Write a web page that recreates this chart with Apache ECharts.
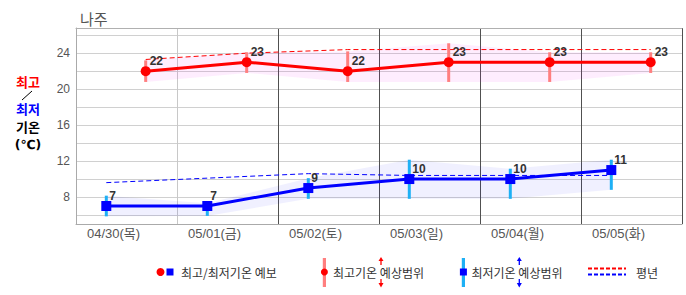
<!DOCTYPE html>
<html><head><meta charset="utf-8">
<script src="https://cdn.jsdelivr.net/npm/echarts@6/dist/echarts.min.js"></script>
<style>html,body{margin:0;padding:0;background:#fff}#c{width:686px;height:295px}</style>
</head><body><div id="c"></div>
<script>
const stationName = '나주';
const dayLabels = ['04/30(목)','05/01(금)','05/02(토)','05/03(일)','05/04(월)','05/05(화)'];
const maxTemp = [22, 23, 22, 23, 23, 23];
const maxRangeHigh = [23.2, 24.1, 24.2, 25.1, 24.1, 24.1];
const maxRangeLow = [20.8, 21.8, 20.8, 20.8, 20.8, 21.8];
const maxNormal = [23.3, 24.0, 24.4, 24.4, 24.4, 24.4];
const minTemp = [7, 7, 9, 10, 10, 11];
const minRangeHigh = [8.15, 7.3, 10.1, 12.15, 11.15, 12.15];
const minRangeLow = [5.85, 5.9, 7.8, 7.8, 7.8, 8.8];
const minNormal = [9.6, 10.1, 10.6, 10.4, 10.4, 10.4];
const yTickLabels = [8, 12, 16, 20, 24];
const legendLabels = ['최고/최저기온 예보', '최고기온 예상범위', '최저기온 예상범위', '평년'];
const axisTitle = ['최고', '최저', '기온', '(℃)'];

const MIN_POS = 0.3, MAX_POS = 0.69; // fraction of the day where min / max temps are plotted
const FONT = "'Liberation Sans', 'Noto Sans CJK KR', sans-serif";
const KFONT = "'Noto Sans CJK KR', sans-serif";
const SFONT = "'DejaVu Sans', 'Noto Sans CJK KR', sans-serif";
const RED = '#ff0000', BLUE = '#0000ff';

function pts(pos, arr) { return arr.map((v, i) => [i + pos, v]); }

function bandSeries(pos, lo, hi, color) {
  return {
    type: 'custom', z: 1, silent: true, data: [[pos, lo[0]]],
    renderItem: (params, api) => {
      const top = hi.map((v, i) => api.coord([i + pos, v]));
      const bot = lo.map((v, i) => api.coord([i + pos, v])).reverse();
      return { type: 'polygon', shape: { points: top.concat(bot) }, style: { fill: color } };
    }
  };
}
function rangeSeries(pos, lo, hi, color) {
  return {
    type: 'custom', z: 3, silent: true,
    data: lo.map((v, i) => [i + pos, v, hi[i]]),
    encode: { x: 0, y: [1, 2] },
    renderItem: (params, api) => {
      const a = api.coord([api.value(0), api.value(1)]);
      const b = api.coord([api.value(0), api.value(2)]);
      return { type: 'line', shape: { x1: a[0], y1: a[1], x2: b[0], y2: b[1] }, style: { stroke: color, lineWidth: 3 } };
    }
  };
}
function normalSeries(pos, arr, color) {
  return { type: 'line', z: 2, silent: true, data: pts(pos, arr), symbol: 'none',
    lineStyle: { color: color, width: 1, type: [5, 3] } };
}
function mainSeries(pos, arr, color, symbol, dx) {
  return {
    type: 'line', z: 4, data: pts(pos, arr), symbol: symbol, symbolSize: 10,
    itemStyle: { color: color }, lineStyle: { color: color, width: 3 },
    label: { show: true, position: 'right', distance: 0, offset: [dx, -10],
      formatter: p => p.value[1], color: '#333', fontWeight: 'bold', fontSize: 12, fontFamily: FONT }
  };
}

function txt(x, y, text, fill, size, weight, align, family) {
  return { type: 'text', x: x, y: y, z: 100,
    style: { text: text, fill: fill, font: (weight || 'normal') + ' ' + size + 'px ' + (family || KFONT),
      lineHeight: size + 1,
      align: align || 'left', verticalAlign: 'middle', textAlign: align || 'left', textVerticalAlign: 'middle' } };
}
function arrows(x, color) {
  return [
    { type: 'line', shape: { x1: x, y1: 265, x2: x, y2: 259 }, style: { stroke: color, lineWidth: 1.3 } },
    { type: 'polygon', shape: { points: [[x - 2.5, 261], [x + 2.5, 261], [x, 257]] }, style: { fill: color } },
    { type: 'line', shape: { x1: x, y1: 279, x2: x, y2: 285 }, style: { stroke: color, lineWidth: 1.3 } },
    { type: 'polygon', shape: { points: [[x - 2.5, 283], [x + 2.5, 283], [x, 287.5]] }, style: { fill: color } }
  ];
}

const LY = 272;
const graphics = [
  txt(28, 81, axisTitle[0], RED, 13, 'bold', 'center'),
  { type: 'line', shape: { x1: 32, y1: 91, x2: 22, y2: 100 }, style: { stroke: '#000', lineWidth: 1 } },
  txt(28, 108.5, axisTitle[1], BLUE, 13, 'bold', 'center'),
  txt(28, 126, axisTitle[2], '#000', 13, 'bold', 'center'),
  txt(28, 144, axisTitle[3], '#000', 12.5, 'bold', 'center', SFONT),
  // legend 1
  { type: 'circle', shape: { cx: 160.5, cy: LY, r: 4 }, style: { fill: RED } },
  { type: 'rect', shape: { x: 166.5, y: LY - 3.5, width: 7, height: 7 }, style: { fill: BLUE } },
  txt(181, LY, legendLabels[0], '#333', 12),
  // legend 2
  { type: 'rect', shape: { x: 322.8, y: 258, width: 3.2, height: 29 }, style: { fill: '#ff7f7f' } },
  { type: 'circle', shape: { cx: 324.4, cy: LY, r: 3.5 }, style: { fill: RED } },
  txt(333, LY, legendLabels[1], '#333', 12),
  ...arrows(381, RED),
  // legend 3
  { type: 'rect', shape: { x: 461.8, y: 258, width: 3.2, height: 29 }, style: { fill: '#1eb0f5' } },
  { type: 'rect', shape: { x: 459.9, y: LY - 3.5, width: 7, height: 7 }, style: { fill: BLUE } },
  txt(471.5, LY, legendLabels[2], '#333', 12),
  ...arrows(519.3, BLUE),
  // legend 4
  { type: 'line', shape: { x1: 588, y1: 268.5, x2: 626, y2: 268.5 }, style: { stroke: RED, lineWidth: 2, lineDash: [4, 2] } },
  { type: 'line', shape: { x1: 588, y1: 274.5, x2: 626, y2: 274.5 }, style: { stroke: BLUE, lineWidth: 2, lineDash: [4, 2] } },
  txt(636, LY, legendLabels[3], '#333', 12)
];

const chart = echarts.init(document.getElementById('c'), null, { renderer: 'svg' });
chart.setOption({
  animation: false,
  backgroundColor: '#fff',
  title: { text: stationName, left: 75, top: 6,
    textStyle: { fontSize: 15, fontWeight: 'normal', color: '#555', fontFamily: KFONT } },
  grid: { left: 76, right: 4, top: 28, bottom: 71 },
  xAxis: [{
    type: 'value', min: 0, max: dayLabels.length, interval: 1,
    axisLine: { show: true, lineStyle: { color: '#aaa' } },
    axisTick: { show: false },
    axisLabel: { formatter: v => dayLabels[v] || '', align: 'left', padding: [0, 0, 0, 11],
      margin: 3, color: '#555', fontSize: 13, fontFamily: FONT },
    splitLine: { show: true, lineStyle: { width: 1,
      color: ['#aaa', '#c8c8c8', '#505050', '#505050', '#505050', '#505050', '#505050'] } }
  }, {
    type: 'value', position: 'top', min: 0, max: dayLabels.length,
    axisLine: { show: true, lineStyle: { color: '#b0b0b0' } },
    axisTick: { show: false }, axisLabel: { show: false }, splitLine: { show: false }
  }],
  yAxis: {
    type: 'value', min: 5, max: 26.8, interval: 1,
    axisLine: { show: true, lineStyle: { color: '#aaa' } },
    axisTick: { show: false },
    axisLabel: { formatter: v => yTickLabels.indexOf(v) >= 0 ? String(v) : '',
      margin: 6, color: '#555', fontSize: 12, fontFamily: FONT },
    splitLine: { show: true, lineStyle: { color: ['rgba(0,0,0,0)', '#d0d0d0'], width: 1 } }
  },
  series: [
    bandSeries(MAX_POS, maxRangeLow, maxRangeHigh, 'rgba(240,0,240,0.07)'),
    bandSeries(MIN_POS, minRangeLow, minRangeHigh, 'rgba(0,0,255,0.06)'),
    normalSeries(MAX_POS, maxNormal, RED),
    normalSeries(MIN_POS, minNormal, BLUE),
    rangeSeries(MAX_POS, maxRangeLow, maxRangeHigh, '#ff7f7f'),
    rangeSeries(MIN_POS, minRangeLow, minRangeHigh, '#1eb0f5'),
    mainSeries(MAX_POS, maxTemp, RED, 'circle', -1),
    mainSeries(MIN_POS, minTemp, BLUE, 'rect', -2)
  ],
  graphic: graphics
});
</script>
</body></html>
